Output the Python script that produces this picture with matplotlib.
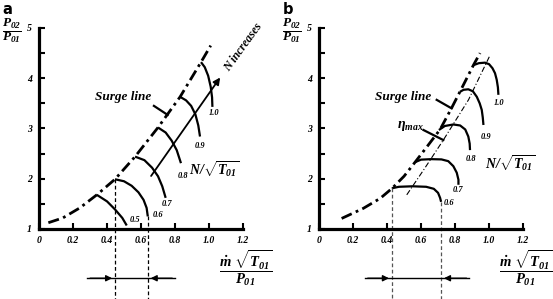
import numpy as np
import matplotlib.pyplot as plt
from matplotlib.font_manager import FontProperties

plt.rcParams['mathtext.fontset'] = 'custom'
plt.rcParams['mathtext.rm'] = 'Liberation Serif:bold:italic'
plt.rcParams['mathtext.it'] = 'Liberation Serif:bold:italic'
plt.rcParams['mathtext.bf'] = 'Liberation Serif:bold:italic'

# ---- data ----
x_ticks = [0, 0.2, 0.4, 0.6, 0.8, 1.0, 1.2]
x_ticklabels = ['0', '0.2', '0.4', '0.6', '0.8', '1.0', '1.2']
y_ticks = [1, 2, 3, 4, 5]

# panel a
surge_a_x = [0.055, 0.14, 0.24, 0.34, 0.447, 0.565, 0.70, 0.83, 0.953, 1.01]
surge_a_y = [1.125, 1.22, 1.42, 1.68, 1.99, 2.44, 3.02, 3.63, 4.32, 4.65]

speeds_a = ['0.5', '0.6', '0.7', '0.8', '0.9', '1.0']
speed_a_x = [
    [0.34, 0.40, 0.447, 0.49, 0.516],
    [0.447, 0.50, 0.545, 0.585, 0.615, 0.633, 0.64],
    [0.565, 0.62, 0.665, 0.70, 0.725, 0.745],
    [0.70, 0.745, 0.78, 0.81, 0.835],
    [0.83, 0.865, 0.895, 0.92, 0.937, 0.947],
    [0.953, 0.975, 0.995, 1.01, 1.018, 1.02],
]
speed_a_y = [
    [1.68, 1.55, 1.39, 1.22, 1.07],
    [1.99, 1.95, 1.86, 1.73, 1.58, 1.42, 1.25],
    [2.44, 2.37, 2.22, 2.05, 1.85, 1.62],
    [3.02, 2.92, 2.76, 2.57, 2.31],
    [3.63, 3.56, 3.45, 3.28, 3.06, 2.84],
    [4.32, 4.22, 4.05, 3.83, 3.62, 3.43],
]
label_a_xy = [(0.565, 1.17), (0.70, 1.27), (0.755, 1.50), (0.845, 2.05), (0.945, 2.66), (1.03, 3.30)]
range_a = [0.447, 0.64]

# panel b
surge_b_x = [0.133, 0.26, 0.36, 0.43, 0.50, 0.565, 0.64, 0.712, 0.78, 0.83, 0.908, 0.947]
surge_b_y = [1.21, 1.41, 1.61, 1.81, 2.05, 2.33, 2.66, 2.98, 3.41, 3.74, 4.26, 4.50]

eta_x = [0.516, 0.62, 0.731, 0.879, 1.006]
eta_y = [1.68, 2.20, 2.77, 3.57, 4.46]

speeds_b = ['0.6', '0.7', '0.8', '0.9', '1.0']
speed_b_x = [
    [0.428, 0.47, 0.55, 0.63, 0.675, 0.70, 0.712, 0.718],
    [0.565, 0.60, 0.66, 0.72, 0.76, 0.79, 0.81, 0.82, 0.82],
    [0.705, 0.74, 0.79, 0.83, 0.86, 0.878, 0.886, 0.888],
    [0.829, 0.85, 0.878, 0.905, 0.928, 0.945, 0.957, 0.963, 0.967],
    [0.908, 0.94, 0.976, 1.0, 1.02, 1.035, 1.045, 1.052, 1.055],
]
speed_b_y = [
    [1.81, 1.84, 1.85, 1.84, 1.80, 1.72, 1.62, 1.54],
    [2.33, 2.38, 2.39, 2.385, 2.35, 2.25, 2.12, 1.98, 1.88],
    [2.97, 3.05, 3.08, 3.06, 2.98, 2.84, 2.70, 2.57],
    [3.73, 3.77, 3.78, 3.74, 3.63, 3.50, 3.37, 3.22, 3.07],
    [4.26, 4.30, 4.31, 4.28, 4.20, 4.10, 3.97, 3.82, 3.67],
]
label_b_xy = [(0.765, 1.52), (0.82, 1.77), (0.895, 2.39), (0.98, 2.84), (1.06, 3.50)]
range_b = [0.428, 0.718]

serif = 'Liberation Serif'
tickfont = FontProperties(family=serif, weight='bold', style='italic', size=7)


def setup(ax, xlim, panel):
    ax.set_xlim(*xlim)
    ax.set_ylim(-0.393, 5.557)
    ax.patch.set_alpha(0)
    for s in ['top', 'right']:
        ax.spines[s].set_visible(False)
    ax.spines['left'].set_position(('data', 0))
    ax.spines['bottom'].set_position(('data', 1))
    ax.spines['left'].set_bounds(1, 5)
    ax.spines['bottom'].set_bounds(0, 1.2)
    ax.spines['left'].set_linewidth(2.3)
    ax.spines['bottom'].set_linewidth(2.3)
    ax.set_xticks(x_ticks)
    ax.set_xticklabels(x_ticklabels)
    ax.set_yticks(y_ticks)
    ax.set_yticks([1.5, 2.5, 3.5, 4.5], minor=True)
    ax.tick_params(direction='in', length=4, width=1.5, pad=5)
    ax.tick_params(which='minor', direction='in', length=4, width=1.5)
    for lab in ax.get_xticklabels() + ax.get_yticklabels():
        lab.set_fontproperties(tickfont)
    ax.text(-0.185, 5.52, panel, fontsize=10.5, fontweight='bold',
            family='DejaVu Sans', ha='center', va='top')
    ax.text(-0.16, 4.93, r'$\dfrac{P_{02}}{P_{01}}$', fontsize=9.5,
            ha='center', va='center')
    ax.text(1.218, 0.22, r'$\dfrac{\dot{m}\ \sqrt{T_{01}}}{P_{01}}$',
            fontsize=10.5, ha='center', va='center')


def surge_text(ax, x0, y0, x1, y1):
    ax.text(0.496, 3.63, 'Surge line', family=serif, fontweight='bold',
            style='italic', fontsize=9.5, ha='center', va='center')
    ax.plot([x0, x1], [y0, y1], color='black', lw=1.6)


def bottom_arrows(ax, rng, left, right):
    y = 0.02
    ax.plot([left, right], [y, y], color='black', lw=1.0)
    ap = dict(arrowstyle='-|>', color='black', lw=1.0, mutation_scale=9)
    ax.annotate('', xy=(rng[0], y), xytext=(left, y), arrowprops=ap)
    ax.annotate('', xy=(rng[1], y), xytext=(right, y), arrowprops=ap)


fig = plt.figure(figsize=(5.53, 2.99), dpi=100)
ax1 = fig.add_axes([0, 0, 0.5, 1])
ax2 = fig.add_axes([0.5, 0, 0.5, 1])

# ---------- panel a ----------
setup(ax1, (-0.2294, 1.397), 'a')
ax1.plot(surge_a_x, surge_a_y, color='black', lw=2.0,
         dashes=(4, 1.6, 1, 1.6))
for xs, ys in zip(speed_a_x, speed_a_y):
    ax1.plot(xs, ys, color='black', lw=1.6, solid_capstyle='butt')
for lab, (lx, ly) in zip(speeds_a, label_a_xy):
    ax1.text(lx, ly, lab, family=serif, fontweight='bold', style='italic',
             fontsize=6, ha='center', va='center')
# dashed range lines
ax1.plot([range_a[0]] * 2, [surge_a_y[4], -0.393], color='black', lw=0.9,
         ls=(0, (3, 2)), clip_on=False)
ax1.plot([range_a[1]] * 2, [speed_a_y[1][-1], -0.393], color='black', lw=0.9,
         ls=(0, (3, 2)), clip_on=False)
bottom_arrows(ax1, range_a, 0.284, 0.80)
# N increases arrow
ax1.annotate('', xy=(1.075, 4.06), xytext=(0.65, 2.01),
             arrowprops=dict(arrowstyle='-|>', color='black', lw=1.3,
                             mutation_scale=10))
ax1.text(1.20, 4.62, 'N increases', family=serif, fontweight='bold',
         style='italic', fontsize=8.5, rotation=54, ha='center', va='center')
surge_text(ax1, 0.676, 3.45, 0.757, 3.27)
ax1.text(1.03, 2.17, r'$N/\sqrt{T_{01}}$', fontsize=10, ha='center',
         va='center')

# ---------- panel b ----------
setup(ax2, (-0.25, 1.376), 'b')
ax2.plot(surge_b_x, surge_b_y, color='black', lw=2.0,
         dashes=(4, 1.6, 1, 1.6))
ax2.plot(eta_x, eta_y, color='black', lw=0.8, dashes=(5, 2, 1, 2))
for xs, ys in zip(speed_b_x, speed_b_y):
    ax2.plot(xs, ys, color='black', lw=1.6, solid_capstyle='butt')
for lab, (lx, ly) in zip(speeds_b, label_b_xy):
    ax2.text(lx, ly, lab, family=serif, fontweight='bold', style='italic',
             fontsize=6, ha='center', va='center')
ax2.plot([range_b[0]] * 2, [speed_b_y[0][0], -0.393], color='#555555', lw=0.9,
         ls=(0, (3, 2)), clip_on=False)
ax2.plot([range_b[1]] * 2, [speed_b_y[0][-1], -0.393], color='#555555', lw=0.9,
         ls=(0, (3, 2)), clip_on=False)
bottom_arrows(ax2, range_b, 0.27, 0.884)
surge_text(ax2, 0.692, 3.57, 0.78, 3.40)
ax2.text(0.535, 3.05, r'$\eta_{max}$', fontsize=10, ha='center', va='center')
ax2.plot([0.614, 0.731], [2.97, 2.77], color='black', lw=1.6)
ax2.text(1.124, 2.29, r'$N/\sqrt{T_{01}}$', fontsize=10, ha='center',
         va='center')

fig.savefig('out.png', dpi=100)
